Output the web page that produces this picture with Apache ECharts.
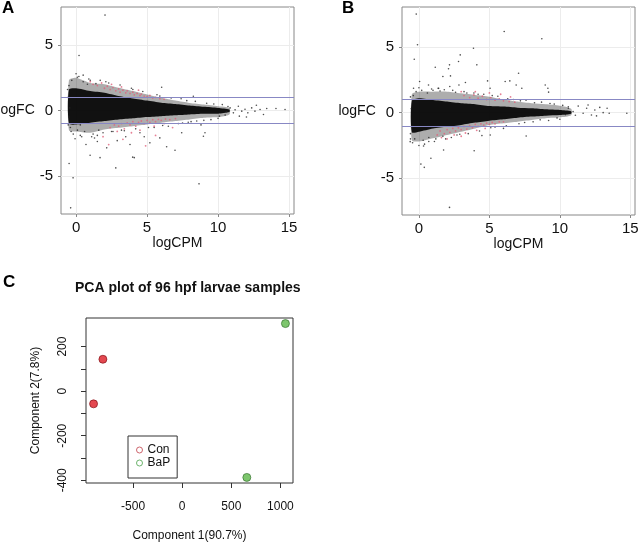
<!DOCTYPE html>
<html>
<head>
<meta charset="utf-8">
<script src="https://cdn.jsdelivr.net/npm/echarts@6.0.0/dist/echarts.min.js"></script>
<style>
  html, body { margin: 0; background: #fff; }
  #chart { width: 640px; height: 545px; }
</style>
</head>
<body>
<div id="chart"></div>
<script>
// ---- panel A / B : MA plots (logCPM vs logFC) ----
const aCpm      = [-0.5, 0, 1, 2, 3, 4, 5, 6, 7, 8, 9, 10, 10.8];
const aCoreHi   = [1.6, 1.7, 1.48, 1.35, 1.1, 0.92, 0.76, 0.6, 0.5, 0.38, 0.28, 0.2, 0.08];
const aCoreLo   = [-1.0, -1.07, -0.94, -0.81, -0.69, -0.6, -0.5, -0.43, -0.36, -0.3, -0.25, -0.25, -0.12];
const aFringeHi = [2.3, 2.5, 2.1, 2.0, 1.73, 1.48, 1.22, 0.97, 0.76, 0.58, 0.46, 0.33, 0.2];
const aFringeLo = [-1.5, -1.6, -1.7, -1.45, -1.32, -1.2, -1.07, -0.94, -0.81, -0.69, -0.56, -0.5, -0.3];

const bCpm      = [-0.5, 0, 1, 2, 3, 4, 5, 6, 7, 8, 9, 10, 10.8];
const bCoreHi   = [0.9, 1.1, 0.97, 0.84, 0.71, 0.64, 0.5, 0.46, 0.38, 0.33, 0.25, 0.2, 0.1];
const bCoreLo   = [-1.5, -1.45, -1.2, -1.07, -0.94, -0.76, -0.61, -0.5, -0.38, -0.3, -0.23, -0.18, -0.08];
const bFringeHi = [1.4, 1.6, 1.6, 1.6, 1.48, 1.35, 1.22, 1.0, 0.84, 0.71, 0.64, 0.53, 0.3];
const bFringeLo = [-2.1, -2.2, -1.96, -1.7, -1.45, -1.2, -0.94, -0.81, -0.69, -0.56, -0.43, -0.36, -0.2];

// scattered genes outside / around the dense cloud
const aGenes = [
  [2.04,7.28],[0.21,4.2],[-0.07,-2.16],[-0.49,-4.05],[-0.21,-5.14],[-0.38,-7.43],[8.66,-5.6],
  [0.99,-3.41],[3.99,-3.56],[4.1,-3.6],[2.8,-4.38],[8.97,-1.96],[9.08,-1.7],[6.97,-3.03],
  [6.38,-2.77],[8.26,1.09],[6.03,1.78],[0.09,2.54],[1.5,-2.37],[2.16,-2.85],[1.69,-3.6],
  [5.2,-2.47],[5.9,-2.09],[7.44,-1.7],[10.1,-0.43],
  [10.85,0.2],[11.08,-0.18],[11.43,0.33],[11.67,-0.05],[12.0,-0.5],[12.37,0.2],[12.6,-0.05],
  [12.96,0.08],[13.2,-0.3],[13.43,0.15],[14.08,0.15],[14.72,0.08],[12.1,-0.18],[12.7,0.4],
  [11.5,-0.43],[10.6,-0.1],[11.2,0.05],[11.9,0.1],
  [-0.5,1.9],[-0.3,2.3],[0.2,2.6],[0.5,2.2],[0.8,2.0],[-0.4,-1.3],[0.1,-1.5],[0.6,-1.6],
  [1.2,-1.8],[1.6,-1.5],[2.5,-1.6],[3.2,-1.5],[1.0,2.3],[1.4,2.05],[0.4,-2.0],[-0.2,-1.8],
  [3.5,-2.0],[4.5,-1.7],[2.9,-2.3],[0.7,-2.6],[1.3,-2.1],[5.5,-1.3],[6.5,-1.2],[7.5,-0.95],
  [8.5,-0.8],[9.5,-0.7],[7.8,0.75],[9.2,0.55],[10.3,0.45],[10.5,-0.35],[8.8,-1.1],[4.8,-2.0],
  [3.8,-2.6],[0.3,-1.1],[-0.45,0.2],[-0.5,-0.5],[-0.55,1.0],
  [-0.6,1.6],[-0.55,-1.1],[0.0,2.8],[0.3,-1.9],[0.9,2.4],[1.1,-2.0],[1.7,2.3],[1.9,-1.7],
  [2.3,2.1],[2.6,-1.6],[3.1,1.95],[3.4,-1.55],[3.9,1.7],[4.2,-1.4],[4.7,1.45],[5.1,-1.3],
  [5.7,1.2],[6.1,-1.15],[6.7,0.95],[7.2,-1.0],[7.4,0.9],[8.1,-0.85],[8.4,0.7],[9.0,-0.75],
  [9.7,0.5],[10.0,-0.6],[10.7,0.3],[-0.35,-1.6],[0.5,2.7],[1.5,-1.9],[2.1,2.2],[4.0,1.6],
  [5.9,1.1],[7.9,-0.9]
];
const aDE = [
  [1.2,2.0],[1.5,1.9],[1.8,2.1],[2.0,1.7],[2.2,1.85],[2.4,1.6],[2.6,1.75],[2.8,1.5],[3.0,1.65],
  [3.1,1.4],[3.3,1.55],[3.5,1.35],[3.6,1.5],[3.8,1.3],[4.0,1.4],[4.1,1.2],[4.3,1.3],[4.5,1.15],
  [4.6,1.25],[4.8,1.1],[5.0,1.05],[5.2,1.15],[5.4,0.95],[5.6,1.0],[5.9,0.9],[6.2,0.85],[2.5,2.0],
  [3.2,1.8],[4.4,1.55],[1.0,2.2],
  [2.4,-1.3],[2.7,-1.1],[3.0,-1.2],[3.2,-1.0],[3.4,-1.4],[3.6,-0.95],[3.8,-1.1],[4.0,-0.85],
  [4.2,-1.2],[4.4,-0.9],[4.6,-0.8],[4.8,-1.0],[5.0,-0.75],[5.2,-0.9],[5.4,-0.7],[5.6,-0.85],
  [5.8,-0.68],[6.0,-0.75],[6.3,-0.65],[6.6,-0.7],[7.0,-0.62],[4.5,-1.5],[3.9,-1.7],[5.5,-1.2],
  [6.2,-1.0],[2.9,-1.6],
  [2.3,-2.6],[3.3,-2.2],[4.9,-2.7],[5.6,-1.9],[6.8,-1.3],[1.9,-2.0]
];

const bGenes = [
  [-0.19,7.51],[-0.1,5.17],[-0.33,4.07],[6.05,6.18],[8.72,5.63],[3.87,4.91],[2.93,4.4],
  [1.16,3.46],[2.17,3.64],[2.1,3.34],[4.11,3.64],[2.81,3.9],[1.7,2.75],[2.24,2.8],[7.07,3.0],
  [4.87,2.42],[6.12,2.37],[6.45,2.42],[8.96,2.11],[9.15,1.86],[9.2,1.56],[0.05,2.37],
  [0.68,2.11],[-0.38,1.86],[3.3,2.3],[2.84,2.11],[2.19,1.99],[1.36,1.86],[5.05,1.86],
  [7.3,1.86],[6.9,2.11],
  [-0.62,-2.21],[0.33,-2.54],[0.14,-3.92],[0.38,-4.17],[0.85,-3.48],[1.75,-2.85],[3.92,-2.9],
  [2.17,-7.22],[7.61,-1.78],[6.0,-1.2],[5.06,-1.7],[4.47,-1.75],[14.75,-0.05],
  [10.6,0.33],[10.94,0.08],[11.3,0.5],[11.65,-0.05],[11.9,0.33],[12.24,-0.18],[12.48,0.2],
  [12.83,0.4],[13.07,0],[13.35,0.33],[13.5,-0.05],[12.6,-0.25],[12.0,0.58],[11.1,-0.2],
  [10.4,-0.15],
  [-0.5,-1.0],[-0.55,0.3],[-0.4,1.3],[0.2,1.7],[0.6,1.5],[1.0,1.7],[1.5,1.65],[-0.3,-2.0],
  [0.3,-2.1],[0.7,-1.9],[1.2,-2.0],[1.7,-1.8],[2.3,-1.9],[-0.6,-1.6],[2.6,1.55],[3.4,1.5],
  [4.2,1.4],[5.2,1.3],[6.3,1.05],[7.2,0.9],[8.2,0.75],[9.3,0.7],[10.2,0.55],[9.8,-0.4],
  [8.6,-0.55],[7.5,-0.75],[0.0,-2.5],[-0.2,1.6],
  [-0.6,1.2],[-0.6,-2.0],[0.0,1.9],[0.4,-2.4],[0.9,1.8],[1.1,-2.2],[1.8,1.75],[1.9,-2.0],
  [2.4,1.7],[2.7,-1.7],[3.2,1.6],[3.5,-1.6],[3.9,1.5],[4.3,-1.4],[4.6,1.4],[5.1,-1.15],
  [5.6,1.25],[6.2,-1.0],[6.7,1.0],[7.1,-0.85],[7.6,0.95],[8.1,-0.7],[8.7,0.8],[9.2,-0.6],
  [9.6,0.65],[10.0,-0.5],[10.6,0.45],[-0.45,-2.3],[0.7,-2.2],[1.4,1.85],[2.9,-1.65],[5.4,-1.1]
];
const bDE = [
  [1.5,-1.4],[1.8,-1.6],[2.0,-1.3],[2.2,-1.5],[2.4,-1.2],[2.6,-1.4],[2.8,-1.15],[3.0,-1.3],
  [3.2,-1.05],[3.4,-1.25],[3.6,-1.0],[3.8,-1.15],[4.0,-0.9],[4.2,-1.05],[4.4,-0.85],[4.6,-0.95],
  [4.8,-0.8],[5.0,-0.9],[5.2,-0.75],[5.4,-0.85],[5.7,-0.7],[6.0,-0.7],[1.6,-1.9],[2.5,-1.7],
  [3.3,-1.55],[4.1,-1.35],[2.0,-2.0],[3.0,-1.8],[1.3,-1.7],[4.7,-1.2],
  [3.2,1.3],[3.6,1.15],[3.9,1.35],[4.2,1.1],[4.5,1.25],[4.8,1.0],[5.1,1.15],[5.4,0.95],
  [5.7,1.05],[6.0,0.9],[6.4,0.85],[6.8,0.8],[4.0,1.6],[5.0,1.5],[5.8,1.4],[3.0,1.6],[6.5,1.2]
];

const foldLines = [1, -1];
const cpmTicks = [0, 5, 10, 15];
const fcTicks = [-5, 0, 5];

// ---- panel C : PCA ----
const conPC1 = [-807, -902];
const conPC2 = [143, -57];
const bapPC1 = [1051, 658];
const bapPC2 = [303, -387];
const pc1Ticks = [-500, 0, 500, 1000];
const pc2Ticks = [-400, -300, -200, -100, 0, 100, 200];
const pc2Labels = [-400, -200, 0, 200];

const FONT = 'Liberation Sans, Arial, sans-serif';
const chart = echarts.init(document.getElementById('chart'));

function band(idx, cpm, hi, lo, color, opacity) {
  return {
    type: 'custom', xAxisIndex: idx, yAxisIndex: idx, silent: true, z: 1,
    data: cpm.map((c, i) => [c, hi[i], lo[i]]),
    renderItem: function (params, api) {
      if (params.dataIndex !== 0) return null;
      const pts = [];
      for (let i = 0; i < cpm.length; i++) pts.push(api.coord([cpm[i], hi[i]]));
      for (let i = cpm.length - 1; i >= 0; i--) pts.push(api.coord([cpm[i], lo[i]]));
      return { type: 'polygon', shape: { points: pts, smooth: 0.25 }, style: { fill: color, opacity: opacity } };
    }
  };
}

function dots(idx, data, color, size, z) {
  return {
    type: 'scatter', xAxisIndex: idx, yAxisIndex: idx, silent: true, z: z,
    symbolSize: size, data: data, itemStyle: { color: color }
  };
}

function maX(idx, min, max) {
  return {
    type: 'value', gridIndex: idx, min: min, max: max,
    name: 'logCPM', nameLocation: 'middle', nameGap: 22,
    nameTextStyle: { fontSize: 14, color: '#111', fontFamily: FONT },
    axisLine: { show: false, onZero: false },
    axisTick: { show: true, customValues: cpmTicks, length: 3, lineStyle: { color: '#888' } },
    axisLabel: { customValues: cpmTicks, fontSize: 15, color: '#111', margin: 6, fontFamily: FONT },
    splitLine: { show: true, lineStyle: { color: '#ececec', width: 1 } }
  };
}
function maY(idx, min, max, gap) {
  return {
    type: 'value', gridIndex: idx, min: min, max: max,
    name: 'logFC', nameLocation: 'middle', nameRotate: 0, nameGap: gap,
    nameTextStyle: { fontSize: 14, color: '#111', fontFamily: FONT },
    axisLine: { show: false, onZero: false },
    axisTick: { show: true, customValues: fcTicks, length: 3, lineStyle: { color: '#888' } },
    axisLabel: { customValues: fcTicks, fontSize: 15, color: '#111', margin: 8, fontFamily: FONT },
    splitLine: { show: true, lineStyle: { color: '#ececec', width: 1 } }
  };
}

const limitLines = {
  silent: true, symbol: 'none', label: { show: false },
  lineStyle: { color: '#8888c4', type: 'solid', width: 1 },
  data: foldLines.map(v => ({ yAxis: v }))
};

const gridBase = { show: true, borderWidth: 1, backgroundColor: 'transparent', outerBoundsMode: 'none', containLabel: false };

const option = {
  animation: false,
  textStyle: { fontFamily: FONT },
  title: [
    { text: 'A', left: 2, top: 0, padding: 0, textStyle: { fontSize: 17, fontWeight: 'bold', color: '#000' } },
    { text: 'B', left: 342, top: 0, padding: 0, textStyle: { fontSize: 17, fontWeight: 'bold', color: '#000' } },
    { text: 'C', left: 3, top: 274, padding: 0, textStyle: { fontSize: 17, fontWeight: 'bold', color: '#000' } },
    { text: 'PCA plot of 96 hpf larvae samples', left: 75, top: 281, padding: 0,
      textStyle: { fontSize: 14, fontWeight: 'bold', color: '#111' } }
  ],
  grid: [
    Object.assign({ left: 61, top: 7, width: 233, height: 207, borderColor: '#888' }, gridBase),
    Object.assign({ left: 402, top: 7, width: 233, height: 208, borderColor: '#888' }, gridBase),
    Object.assign({ left: 86, top: 318, width: 207, height: 165, borderColor: '#333' }, gridBase)
  ],
  xAxis: [
    maX(0, -1.06, 15.35),
    maX(1, -1.2, 15.33),
    {
      type: 'value', gridIndex: 2, min: -979, max: 1128,
      name: 'Component 1(90.7%)', nameLocation: 'middle', nameGap: 47,
      nameTextStyle: { fontSize: 12, color: '#111' },
      axisLine: { show: false, onZero: false },
      axisTick: { show: true, customValues: pc1Ticks, length: 5, lineStyle: { color: '#333' } },
      axisLabel: { customValues: pc1Ticks, fontSize: 12, color: '#111', margin: 18, formatter: v => String(v) },
      splitLine: { show: false }
    }
  ],
  yAxis: [
    maY(0, -7.9, 7.9, 22),
    maY(1, -7.8, 8.05, 23),
    {
      type: 'value', gridIndex: 2, min: -412, max: 328,
      name: 'Component 2(7.8%)', nameLocation: 'middle', nameGap: 44,
      nameTextStyle: { fontSize: 12, color: '#111' },
      axisLine: { show: false, onZero: false },
      axisTick: { show: true, customValues: pc2Ticks, length: 5, lineStyle: { color: '#333' } },
      axisLabel: { customValues: pc2Labels, fontSize: 12, color: '#111', margin: 17, rotate: 90, formatter: v => String(v) },
      splitLine: { show: false }
    }
  ],
  legend: {
    left: 128, top: 436, orient: 'vertical', padding: [8, 7, 9, 8], itemGap: 1,
    itemWidth: 6, itemHeight: 6, borderColor: '#333', borderWidth: 1, borderRadius: 0,
    textStyle: { fontSize: 12, color: '#111' },
    data: [
      { name: 'Con', icon: 'circle', itemStyle: { color: 'transparent', borderColor: '#c0404a', borderWidth: 1 } },
      { name: 'BaP', icon: 'circle', itemStyle: { color: 'transparent', borderColor: '#4aa04a', borderWidth: 1 } }
    ]
  },
  series: [
    band(0, aCpm, aFringeHi, aFringeLo, '#000', 0.32),
    band(0, aCpm, aCoreHi, aCoreLo, '#000', 0.9),
    Object.assign(dots(0, aGenes, '#222', 1.6, 3), { markLine: limitLines }),
    dots(0, aDE, '#e0607a', 1.8, 4),
    band(1, bCpm, bFringeHi, bFringeLo, '#000', 0.32),
    band(1, bCpm, bCoreHi, bCoreLo, '#000', 0.9),
    Object.assign(dots(1, bGenes, '#222', 1.6, 3), { markLine: limitLines }),
    dots(1, bDE, '#e0607a', 1.8, 4),
    {
      name: 'Con', type: 'scatter', xAxisIndex: 2, yAxisIndex: 2, symbolSize: 8,
      data: conPC1.map((v, i) => [v, conPC2[i]]),
      itemStyle: { color: '#dc1a24', borderColor: '#7a0a10', borderWidth: 0.8 }
    },
    {
      name: 'BaP', type: 'scatter', xAxisIndex: 2, yAxisIndex: 2, symbolSize: 8,
      data: bapPC1.map((v, i) => [v, bapPC2[i]]),
      itemStyle: { color: '#5cb848', borderColor: '#2d6a28', borderWidth: 0.8 }
    }
  ]
};

chart.setOption(option);
</script>
</body>
</html>
